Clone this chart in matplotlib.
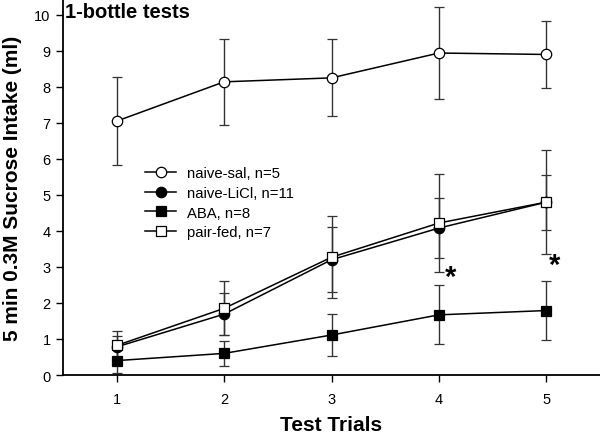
"""Intake across 1-bottle test trials, four groups with SEM error bars."""

import matplotlib
matplotlib.use('Agg')
import matplotlib.pyplot as plt
from matplotlib.lines import Line2D

plt.rcParams['font.family'] = ['Liberation Sans', 'DejaVu Sans']

trials = [1, 2, 3, 4, 5]

naive_sal = [7.05, 8.14, 8.25, 8.94, 8.9]
naive_sal_err = [1.22, 1.2, 1.07, 1.28, 0.92]

naive_licl = [0.78, 1.69, 3.2, 4.08, 4.8]
naive_licl_err = [0.3, 0.58, 0.9, 0.84, 0.76]

aba = [0.4, 0.6, 1.11, 1.67, 1.79]
aba_err = [0.35, 0.34, 0.58, 0.82, 0.82]

pair_fed = [0.82, 1.85, 3.27, 4.22, 4.8]
pair_fed_err = [0.4, 0.75, 1.14, 1.37, 1.45]

labels = ['naive-sal, n=5', 'naive-LiCl, n=11', 'ABA, n=8', 'pair-fed, n=7']

# asterisk positions (trial offset, height)
star_x = [4.11, 5.08]
star_y = [2.73, 3.06]


def main() -> None:
    fig = plt.figure(figsize=(6.0, 4.39), dpi=100)
    ax = fig.add_axes([0.105, 0.1435, 0.895, 0.8565])

    series = [
        (naive_sal, naive_sal_err, 'o', 'white'),
        (naive_licl, naive_licl_err, 'o', 'black'),
        (aba, aba_err, 's', 'black'),
        (pair_fed, pair_fed_err, 's', 'white'),
    ]
    handles = []
    for (vals, errs, marker, face), label in zip(series, labels):
        msize = 7.5 if marker == 'o' else 7
        ax.errorbar(
            trials, vals, yerr=errs,
            color='black', ecolor='#333333', elinewidth=1.0,
            capsize=3.6, capthick=1.0,
            marker=marker, markersize=msize,
            markerfacecolor=face, markeredgecolor='black', markeredgewidth=0.9,
            linewidth=1.1,
        )
        handles.append(Line2D([], [], color='black', linewidth=1.1, marker=marker,
                              markersize=msize, markerfacecolor=face,
                              markeredgecolor='black', markeredgewidth=0.9,
                              label=label))

    for x, y in zip(star_x, star_y):
        ax.text(x, y, '*', fontsize=21, fontweight='bold', ha='center', va='center')

    ax.text(0.52, 10.36, '1-bottle tests', fontsize=14.5, fontweight='bold',
            ha='left', va='top')

    ax.set_xlim(0.5, 5.5)
    ax.set_ylim(0, 10.44)
    ax.set_xticks(trials)
    ax.set_yticks(range(0, 11))
    ax.tick_params(direction='out', length=5, width=1, labelsize=10.5, pad=7)
    ax.tick_params(axis='y', pad=4)
    for side in ('top', 'right'):
        ax.spines[side].set_visible(False)
    for side in ('left', 'bottom'):
        ax.spines[side].set_linewidth(1.3)

    ax.set_xlabel('Test Trials', fontsize=15, fontweight='bold', labelpad=7)
    ax.set_ylabel('5 min 0.3M Sucrose Intake (ml)', fontsize=15,
                  fontweight='bold', labelpad=9)

    ax.legend(handles=handles, loc='upper left', bbox_to_anchor=(0.153, 0.555),
              frameon=False, fontsize=10.7, handlelength=2.1, handletextpad=0.7,
              labelspacing=0.38, borderpad=0, borderaxespad=0)

    fig.savefig('out.png', dpi=100)
    plt.close(fig)


if __name__ == '__main__':
    main()
